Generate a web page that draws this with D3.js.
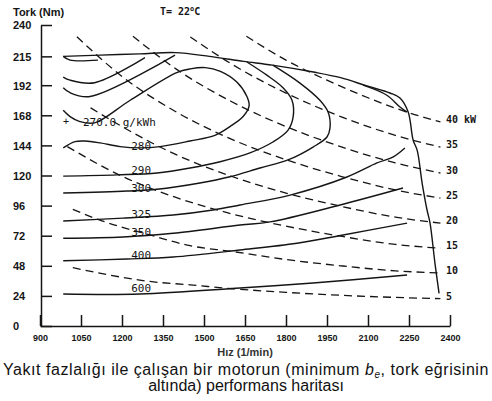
<!DOCTYPE html>
<html>
<head>
<meta charset="utf-8">
<title>Performans haritası</title>
<script src="https://d3js.org/d3.v7.min.js"></script>
<style>
  body { margin: 0; background: #fff; }
  svg { display: block; }
</style>
</head>
<body>
<div id="chart"></div>
<script>
// eksen değerleri
var xTicks = [900, 1050, 1200, 1350, 1500, 1650, 1800, 1950, 2100, 2250, 2400];
var yTicks = [0, 24, 48, 72, 96, 120, 144, 168, 192, 215, 240];

// tam yük tork eğrisi [devir, Nm]
var fullLoad = [[985,215],[1120,216],[1265,217],[1395,218],[1520,215],[1645,211],[1750,208],
  [1900,202.5],[2000,198],[2096,191.4],[2180,185.8],[2217,181.8],[2247,170.6],[2265,148.3],
  [2280,140],[2298,114],[2316,92.5],[2327,82],[2345,50],[2360,26]];

// özgül yakıt tüketimi eğrileri (g/kWh)
var beWedge = [[985,215],[1010,212],[1112,212]];
var beA = [[985,198.5],[1010,196],[1100,194],[1284,214]];
var beB = [[985,190],[1010,186],[1083,183],[1394,216]];
var be270 = [[985,172],[1010,167],[1046,163],[1100,162],[1230,180],[1400,202],[1450,205],
  [1505,206],[1560,203],[1620,194.5],[1657,183],[1665,175.5],[1643,167],[1595,159],
  [1540,152],[1449,147.5],[1339,143],[1266,142],[1193,143],[1120,146],[1065,147.5],
  [1028,147],[985,142]];
var be290 = [[985,119.5],[1182,120.5],[1328,122],[1449,126],[1559,131],[1668,138],[1752,146.7],
  [1807,156],[1826,166.5],[1822,180],[1789,190],[1730,200],[1657,210.5]];
var be300 = [[985,106],[1218,107.6],[1328,109],[1485,114],[1595,119],[1705,126],[1807,132.4],
  [1899,142.7],[1950,150.7],[1961,158],[1954,170.6],[1924,180],[1851,193.7],[1752,208]];
var be325 = [[985,83.7],[1204,86],[1387,88.5],[1533,92.5],[1632,96.5],[1815,104.4],[2023,118.8],
  [2133,130],[2191,134.7],[2235,142]];
var be350 = [[985,70],[1204,71],[1387,74],[1632,80.5],[1741,83],[1998,96.5],[2228,110]];
var be400 = [[985,52],[1218,53.4],[1387,55],[1632,60.6],[1840,66],[2009,72.6],[2243,82]];
var be600 = [[985,25.5],[1266,25.5],[1632,30.3],[1899,34.3],[2243,40.7]];
var beCorner = [[2082,192],[2169,184],[2217,174.6],[2243,170.6]];

var beLabels = ["280", "290", "300", "325", "350", "400", "600"];
var beLabelTorque = [141, 122, 107.6, 87, 72.6, 54.2, 27.9];

// sabit güç eğrileri (kW)
var p40 = [[1655,231],[1800,212],[1950,196],[2100,182],[2250,170],[2365,162.7]];
var p35 = [[1450,230.5],[1600,209],[1800,185.7],[2000,167],[2200,152],[2365,142.7]];
var p30 = [[1240,231],[1400,204.6],[1600,179],[1800,159],[2000,143],[2200,130],[2365,122]];
var p25 = [[1035,230.6],[1200,199],[1400,170.5],[1600,149],[1800,132.6],[2000,119.4],[2200,108.5],[2365,102]];
var p20 = [[1085,174],[1200,159],[1400,136.4],[1600,119.4],[1800,106],[2000,95.5],[2200,86.8],[2365,82]];
var p15 = [[1000,143],[1200,119.4],[1400,102.3],[1600,89.5],[1800,79.6],[2000,71.6],[2200,65.1],[2365,62]];
var p10 = [[1020,93],[1112,85],[1302,72.6],[1449,64],[1600,59.5],[1800,53],[2000,48],[2200,44],[2365,42.3]];
var p5 = [[1020,46.5],[1145,41],[1302,35.5],[1449,32.8],[1606,29.7],[1800,26.8],[2000,24.5],[2200,22.8],[2365,21.8]];
var powerLabels = ["40 kW", "35", "30", "25", "20", "15", "10", "5"];

var width = 492, height = 401;
var svg = d3.select("#chart").append("svg")
    .attr("width", width).attr("height", height);

var x = d3.scaleLinear().domain([900, 2400]).range([40, 450]);
var y = d3.scaleLinear().domain([0, 240]).range([326, 25]);

var ink = "#151515";

// eksenler
var yAxis = svg.append("g")
    .attr("transform", "translate(41,0)")
    .call(d3.axisLeft(y).tickValues(yTicks).tickSize(-11).tickSizeOuter(0).tickFormat(d3.format("d")));
yAxis.selectAll("text")
    .attr("x", -28).attr("dy", "0.36em")
    .attr("text-anchor", "start")
    .style("font", "bold 11px 'Liberation Sans', Arial, sans-serif")
    .attr("fill", ink);

var xAxis = svg.append("g")
    .attr("transform", "translate(0,326)")
    .call(d3.axisBottom(x).tickValues(xTicks).tickSize(-11).tickSizeOuter(0).tickFormat(d3.format("d")));
xAxis.selectAll("text")
    .attr("y", 15).attr("dy", null)
    .style("font", "bold 9px 'Liberation Sans', Arial, sans-serif")
    .attr("fill", ink);

svg.selectAll(".domain, .tick line")
    .attr("stroke", ink).attr("stroke-width", 1.5);

var line = d3.line()
    .x(function (d) { return x(d[0]); })
    .y(function (d) { return y(d[1]); });

// kesikli güç eğrileri
var powerLines = [p40, p35, p30, p25, p20, p15, p10, p5];
svg.append("g").selectAll("path")
    .data(powerLines)
    .enter().append("path")
    .attr("d", line.curve(d3.curveMonotoneX))
    .attr("fill", "none")
    .attr("stroke", ink)
    .attr("stroke-width", 1.3)
    .attr("stroke-dasharray", "8,5");

svg.append("g").selectAll("text")
    .data(powerLines)
    .enter().append("text")
    .attr("x", 446)
    .attr("y", function (d) { return y(d[d.length - 1][1]) + 1; })
    .text(function (d, i) { return powerLabels[i]; })
    .style("font", "bold 10px 'DejaVu Sans Mono', monospace")
    .attr("fill", ink);

// düz çizgiler
var solidLines = [fullLoad, beWedge, beA, beB, be270, be290, be300, be325, be350, be400, be600, beCorner];
var smooth = d3.line()
    .x(function (d) { return x(d[0]); })
    .y(function (d) { return y(d[1]); })
    .curve(d3.curveCatmullRom.alpha(0.5));
svg.append("g").selectAll("path")
    .data(solidLines)
    .enter().append("path")
    .attr("d", smooth)
    .attr("fill", "none")
    .attr("stroke", ink)
    .attr("stroke-width", 1.4);

svg.append("g").selectAll("text")
    .data(beLabels)
    .enter().append("text")
    .attr("x", x(1270))
    .attr("y", function (d, i) { return y(beLabelTorque[i]) + 1; })
    .attr("text-anchor", "middle")
    .text(function (d) { return d; })
    .style("font", "11px 'DejaVu Sans Mono', monospace")
    .attr("fill", ink);

svg.append("text")
    .attr("x", x(995)).attr("y", y(160))
    .attr("text-anchor", "middle")
    .text("+")
    .style("font", "10px 'DejaVu Sans Mono', monospace")
    .attr("fill", ink);
svg.append("text")
    .attr("x", x(1057)).attr("y", y(159.5))
    .text("270.0 g/kWh")
    .style("font", "11px 'DejaVu Sans Mono', monospace")
    .attr("fill", ink);

// başlıklar
svg.append("text")
    .attr("x", 13).attr("y", 16)
    .text("Tork (Nm)")
    .style("font", "bold 11px 'Liberation Sans', Arial, sans-serif")
    .attr("fill", ink);

var tTitle = svg.append("text")
    .attr("x", 160).attr("y", 15)
    .style("font", "bold 10px 'DejaVu Sans Mono', monospace")
    .attr("fill", ink);
tTitle.append("tspan").text("T= 22");
tTitle.append("tspan").attr("dy", -4).style("font-size", "7px").text("o");
tTitle.append("tspan").attr("dy", 4).text("C");

svg.append("text")
    .attr("x", 245).attr("y", 356)
    .attr("text-anchor", "middle")
    .text("Hız (1/min)")
    .style("font", "bold 11px 'Liberation Sans', Arial, sans-serif")
    .attr("fill", "#333");

var cap = svg.append("text")
    .attr("x", 246).attr("y", 375)
    .attr("text-anchor", "middle")
    .style("font", "16px 'Liberation Sans', Arial, sans-serif")
    .style("letter-spacing", "0.55px")
    .attr("fill", "#111");
cap.append("tspan").text("Yakıt fazlalığı ile çalışan bir motorun (minimum ");
cap.append("tspan").style("font-style", "italic").text("b");
cap.append("tspan").attr("dy", 3).style("font-size", "10px").style("font-style", "italic").text("e");
cap.append("tspan").attr("dy", -3).text(", tork eğrisinin");

svg.append("text")
    .attr("x", 246).attr("y", 391)
    .attr("text-anchor", "middle")
    .text("altında) performans haritası")
    .style("font", "16px 'Liberation Sans', Arial, sans-serif")
    .attr("fill", "#111");
</script>
</body>
</html>
